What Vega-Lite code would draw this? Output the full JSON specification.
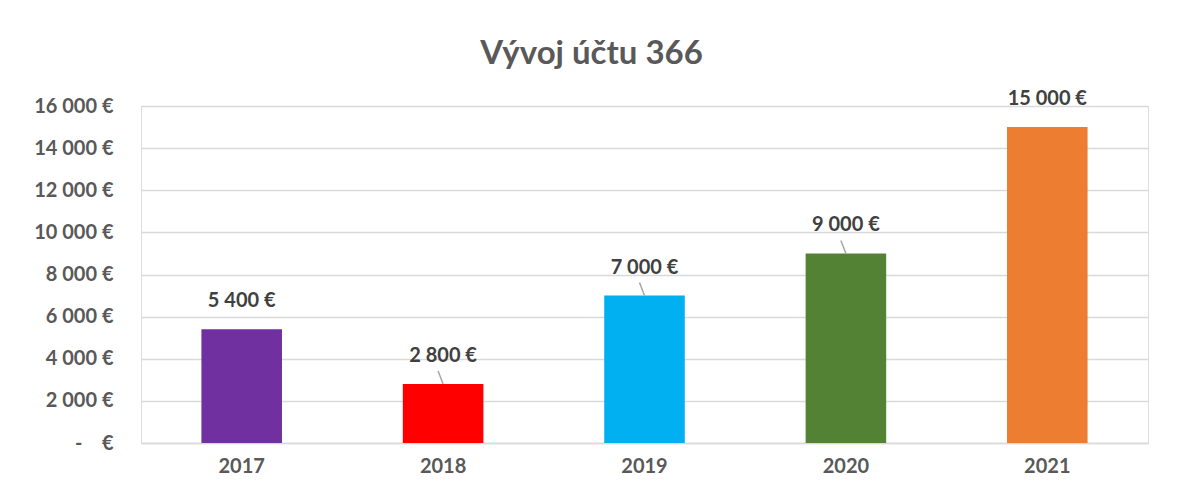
{
  "$schema": "https://vega.github.io/schema/vega-lite/v6.json",
  "autosize": {"type": "none"},
  "width": 1007,
  "height": 337,
  "padding": {"left": 141, "top": 106, "right": 29, "bottom": 56},
  "background": "white",
  "config": {
    "locale": {
      "number": {"decimal": ",", "thousands": " ", "grouping": [3], "currency": ["", " €"]}
    }
  },
  "title": {
    "text": "Vývoj účtu 366",
    "anchor": "middle",
    "frame": "group",
    "dx": -53,
    "offset": 18,
    "font": "Lato",
    "fontSize": 33,
    "fontWeight": "bold",
    "color": "#595959"
  },
  "data": {
    "values": [
      {"year": "2017", "value": 5400, "color": "#7030A0"},
      {"year": "2018", "value": 2800, "color": "#FF0000"},
      {"year": "2019", "value": 7000, "color": "#00B0F0"},
      {"year": "2020", "value": 9000, "color": "#548235"},
      {"year": "2021", "value": 15000, "color": "#ED7D31"}
    ]
  },
  "encoding": {
    "x": {
      "field": "year",
      "type": "nominal",
      "scale": {"paddingInner": 0.6, "paddingOuter": 0.3},
      "axis": {
        "title": null,
        "labelAngle": 0,
        "labelFont": "Lato",
        "labelFontSize": 20,
        "labelFontWeight": "bold",
        "labelColor": "#595959",
        "labelPadding": 13,
        "ticks": false,
        "domainColor": "#d9d9d9",
        "domainWidth": 1.5
      }
    },
    "y": {
      "field": "value",
      "type": "quantitative",
      "scale": {"domain": [0, 16000], "nice": false},
      "axis": {
        "title": null,
        "values": [0, 2000, 4000, 6000, 8000, 10000, 12000, 14000, 16000],
        "labelExpr": "datum.value == 0 ? '-\u00a0\u00a0\u00a0\u00a0€' : format(datum.value, '$,')",
        "labelFont": "Lato",
        "labelFontSize": 20,
        "labelFontWeight": "bold",
        "labelColor": "#595959",
        "labelPadding": 28,
        "ticks": false,
        "domain": false,
        "gridColor": "#d9d9d9",
        "gridWidth": 1.5
      }
    }
  },
  "layer": [
    {
      "mark": {"type": "bar"},
      "encoding": {
        "color": {"field": "color", "type": "nominal", "scale": null, "legend": null}
      }
    },
    {
      "transform": [{"filter": "datum.year == '2018' || datum.year == '2019' || datum.year == '2020'"}],
      "mark": {"type": "rule", "color": "#a6a6a6", "strokeWidth": 1.5, "y2Offset": -13, "x2Offset": -5},
      "encoding": {
        "y2": {"field": "value"},
        "x2": {"field": "year"}
      }
    },
    {
      "mark": {
        "type": "text",
        "yOffset": -28,
        "font": "Lato",
        "fontSize": 20,
        "fontWeight": "bold",
        "color": "#404040",
        "baseline": "middle"
      },
      "encoding": {
        "text": {"field": "value", "type": "quantitative", "format": "$,"}
      }
    }
  ]
}
